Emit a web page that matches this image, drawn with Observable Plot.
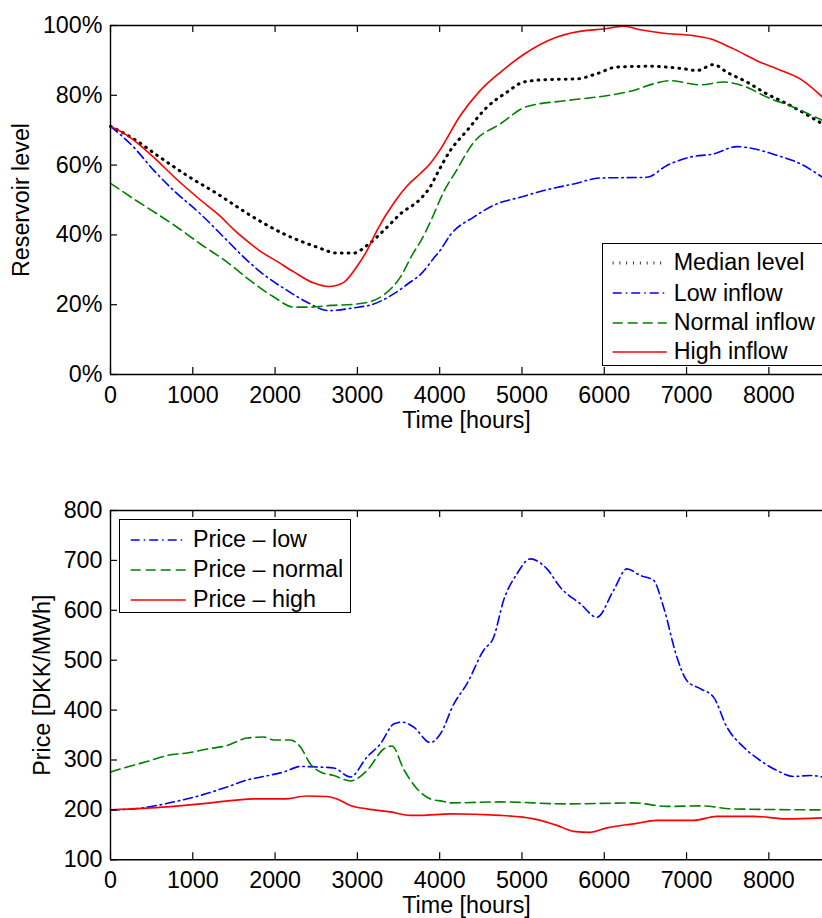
<!DOCTYPE html>
<html>
<head>
<meta charset="utf-8">
<script src="https://cdn.jsdelivr.net/npm/d3@7"></script>
<script src="https://cdn.jsdelivr.net/npm/@observablehq/plot@0.6"></script>
<style>
html, body { margin: 0; padding: 0; background: #fff; overflow: hidden; width: 822px; height: 918px; }
#wrap { position: relative; width: 822px; height: 918px; font-family: "Liberation Sans", Arial, Helvetica, sans-serif; color: #000; }
#wrap svg.plot { display: block; }
.legend { position: absolute; background: #fff; border: 1.3px solid #000; box-sizing: border-box; font-size: 23.3px; }
.legend .row { position: absolute; left: 0; height: 30px; display: flex; align-items: center; white-space: nowrap; }
.legend .row svg { display: block; }
</style>
</head>
<body>
<div id="wrap"></div>
<script>
// ---------- data (hours, value) ----------
const xTicks = [0, 1000, 2000, 3000, 4000, 5000, 6000, 7000, 8000];
const levelTicks = [0, 20, 40, 60, 80, 100];
const priceTicks = [100, 200, 300, 400, 500, 600, 700, 800];

const levelLegend = ["Median level", "Low inflow", "Normal inflow", "High inflow"];
const priceLegend = ["Price \u2013 low", "Price \u2013 normal", "Price \u2013 high"];

const medianLevel = [[0,71.1],[283,67.5],[567,62.8],[931,57.0],[1296,51.8],[1700,45.6],[2105,40.3],[2510,36.5],[2753,34.8],[2955,34.8],[3117,37.0],[3360,42.2],[3522,46.0],[3765,50.3],[3888,53.9],[3968,57.5],[4130,64.2],[4332,69.9],[4575,76.6],[4818,80.9],[5020,83.8],[5304,84.5],[5668,84.7],[5911,86.2],[6154,88.1],[6559,88.3],[6964,87.6],[7126,87.1],[7328,88.8],[7490,86.6],[7733,83.8],[7976,80.4],[8219,77.6],[8652,71.8]];
const lowInflow = [[0,71.1],[283,65.1],[526,58.5],[769,52.7],[1093,46.0],[1417,38.4],[1660,32.7],[1903,27.9],[2146,24.1],[2389,20.7],[2652,18.3],[2955,19.1],[3198,20.2],[3441,23.1],[3644,26.5],[3765,28.6],[3927,33.3],[4010,35.7],[4130,40.0],[4413,45.1],[4696,48.9],[4980,50.8],[5263,52.7],[5627,54.6],[5951,56.3],[6518,56.5],[6761,59.9],[7045,62.3],[7328,63.2],[7611,65.3],[7814,64.7],[8097,62.8],[8381,60.4],[8652,56.5]];
const normalInflow = [[0,54.8],[283,50.3],[567,46.0],[810,42.2],[1093,37.4],[1417,32.2],[1700,26.9],[1984,22.2],[2227,19.3],[2429,19.3],[2672,19.8],[2955,20.1],[3158,20.9],[3320,22.8],[3522,27.9],[3684,35.0],[3765,38.0],[3888,43.8],[4050,52.4],[4192,58.0],[4413,66.5],[4737,71.8],[5061,76.8],[5547,78.5],[6113,80.2],[6356,81.4],[6599,83.3],[6802,84.2],[7166,83.0],[7449,83.8],[7733,82.3],[7976,79.5],[8300,76.6],[8652,72.8]];
const highInflow = [[0,71.1],[150,69.3],[364,65.6],[526,62.2],[810,55.8],[1093,50.0],[1336,45.3],[1498,41.5],[1700,37.5],[1822,35.3],[2024,32.4],[2227,29.4],[2470,26.2],[2652,25.2],[2834,26.4],[2996,31.0],[3117,35.5],[3240,41.4],[3462,49.8],[3603,54.0],[3765,57.6],[3880,60.3],[4008,64.5],[4251,74.2],[4494,81.4],[4737,86.6],[5020,91.7],[5425,96.7],[5789,98.6],[5992,99.0],[6235,99.8],[6437,98.8],[6721,97.8],[7085,97.1],[7287,96.2],[7571,93.3],[7895,89.5],[8097,87.6],[8381,84.7],[8652,79.5]];

const priceLow = [[0,200],[283,202],[567,209],[850,219],[1093,229],[1417,246],[1660,260],[1862,267],[2105,276],[2308,287],[2510,286],[2713,284],[2915,266],[3117,306],[3279,332],[3441,372],[3540,376],[3684,366],[3887,335],[4008,352],[4171,412],[4332,453],[4534,520],[4656,546],[4777,620],[4939,673],[5101,703],[5304,683],[5466,646],[5709,613],[5911,586],[6113,640],[6275,683],[6437,670],[6599,660],[6721,606],[6883,506],[7004,459],[7166,443],[7328,426],[7490,366],[7692,326],[7895,299],[8097,279],[8300,267],[8502,269],[8652,266]];
const priceNormal = [[0,276],[202,286],[486,299],[688,309],[931,314],[1174,322],[1417,329],[1660,344],[1862,346],[1984,340],[2186,340],[2308,326],[2429,292],[2551,276],[2713,269],[2915,258],[3117,279],[3320,322],[3421,328],[3564,281],[3726,242],[3888,222],[4050,217],[4130,214],[4737,216],[5547,212],[6356,214],[6761,207],[7166,208],[7571,202],[8652,200]];
const priceHigh = [[0,200],[688,206],[1093,212],[1498,219],[1741,222],[2105,222],[2389,228],[2632,227],[2753,222],[2915,209],[3117,202],[3401,196],[3644,189],[3765,189],[4130,192],[4737,189],[5142,182],[5425,169],[5628,157],[5830,155],[6032,164],[6356,172],[6640,179],[7085,179],[7368,187],[7814,187],[8219,182],[8652,184]];

// ---------- styles ----------
const FONT = "'Liberation Sans', Arial, Helvetica, sans-serif";
const FS = 23.3;
const sty = {
  median: {stroke: "#000000", strokeWidth: 3, strokeDasharray: "0.8,6"},
  low:    {stroke: "#0000ff", strokeWidth: 1.6, strokeDasharray: "9,4,1.5,4"},
  normal: {stroke: "#008000", strokeWidth: 1.6, strokeDasharray: "10,5"},
  high:   {stroke: "#ff0000", strokeWidth: 1.6}
};

const W = 822, ML = 110, XMAX = 8652, TICK = 7;

function panel({height, mt, mb, yDomain, yTicks, yFormat, yLabel, yLabelOffset, lines}) {
  const frameH = height - mt - mb, frameW = W - ML;
  return Plot.plot({
    width: W, height, marginTop: mt, marginBottom: mb, marginLeft: ML, marginRight: 0,
    style: `font-family: ${FONT}; font-size: ${FS}px; color: #000; background: #fff; overflow: visible;`,
    x: {domain: [0, XMAX]},
    y: {domain: yDomain},
    marks: [
      ...lines.map(([data, s]) => Plot.line(data, {x: d => d[0], y: d => d[1], curve: "monotone-x", ...s})),
      Plot.ruleY([yDomain[0], yDomain[1]], {stroke: "#000", strokeWidth: 1.4}),
      Plot.ruleX([0], {stroke: "#000", strokeWidth: 1.4}),
      Plot.ruleX(xTicks, {stroke: "#000", strokeWidth: 1.2, insetTop: frameH - TICK}),
      Plot.ruleX(xTicks, {stroke: "#000", strokeWidth: 1.2, insetBottom: frameH - TICK}),
      Plot.ruleY(yTicks, {stroke: "#000", strokeWidth: 1.2, insetRight: frameW - TICK}),
      Plot.axisX(xTicks, {tickSize: 0, tickPadding: 12, tickFormat: d => String(d), label: "Time [hours]", labelAnchor: "center", labelOffset: 53, labelArrow: "none"}),
      Plot.axisY(yTicks, {tickSize: 0, tickPadding: 8, tickFormat: yFormat, label: yLabel, labelAnchor: "center", labelOffset: yLabelOffset, labelArrow: "none"})
    ]
  });
}

const wrap = document.getElementById("wrap");

const topPlot = panel({
  height: 440, mt: 25, mb: 66, yDomain: [0, 100], yTicks: levelTicks, yFormat: d => d + "%",
  yLabel: "Reservoir level", yLabelOffset: 98,
  lines: [[medianLevel, sty.median], [lowInflow, sty.low], [normalInflow, sty.normal], [highInflow, sty.high]]
});
const bottomPlot = panel({
  height: 478, mt: 70, mb: 58.7, yDomain: [100, 800], yTicks: priceTicks, yFormat: d => String(d),
  yLabel: "Price [DKK/MWh]", yLabelOffset: 77,
  lines: [[priceLow, sty.low], [priceNormal, sty.normal], [priceHigh, sty.high]]
});
wrap.appendChild(topPlot);
wrap.appendChild(bottomPlot);

function legend({left, top, width, height, names, styles, rowTops, sampleX0, sampleX1, textX}) {
  const box = document.createElement("div");
  box.className = "legend";
  Object.assign(box.style, {left: left + "px", top: top + "px", width: width + "px", height: height + "px"});
  names.forEach((name, i) => {
    const s = styles[i];
    const row = document.createElement("div");
    row.className = "row";
    row.style.top = (rowTops[i] - 15) + "px";
    const ns = "http://www.w3.org/2000/svg";
    const svg = document.createElementNS(ns, "svg");
    svg.setAttribute("width", textX);
    svg.setAttribute("height", 30);
    const ln = document.createElementNS(ns, "line");
    ln.setAttribute("x1", sampleX0); ln.setAttribute("x2", sampleX1);
    ln.setAttribute("y1", 15); ln.setAttribute("y2", 15);
    ln.setAttribute("stroke", s.stroke);
    ln.setAttribute("stroke-width", s.strokeWidth);
    if (s.strokeDasharray) ln.setAttribute("stroke-dasharray", s.strokeDasharray);
    svg.appendChild(ln);
    row.appendChild(svg);
    const t = document.createElement("span");
    t.textContent = name;
    row.appendChild(t);
    box.appendChild(row);
  });
  wrap.appendChild(box);
}

legend({left: 602, top: 242.7, width: 240, height: 123, names: levelLegend,
  styles: [sty.median, sty.low, sty.normal, sty.high], rowTops: [19, 49.6, 79, 108.3],
  sampleX0: 9.7, sampleX1: 63.7, textX: 70.7});
legend({left: 119.3, top: 519.3, width: 231.4, height: 94, names: priceLegend,
  styles: [sty.low, sty.normal, sty.high], rowTops: [19.7, 49.7, 79.7],
  sampleX0: 10.7, sampleX1: 65.7, textX: 72.7});
</script>
</body>
</html>
